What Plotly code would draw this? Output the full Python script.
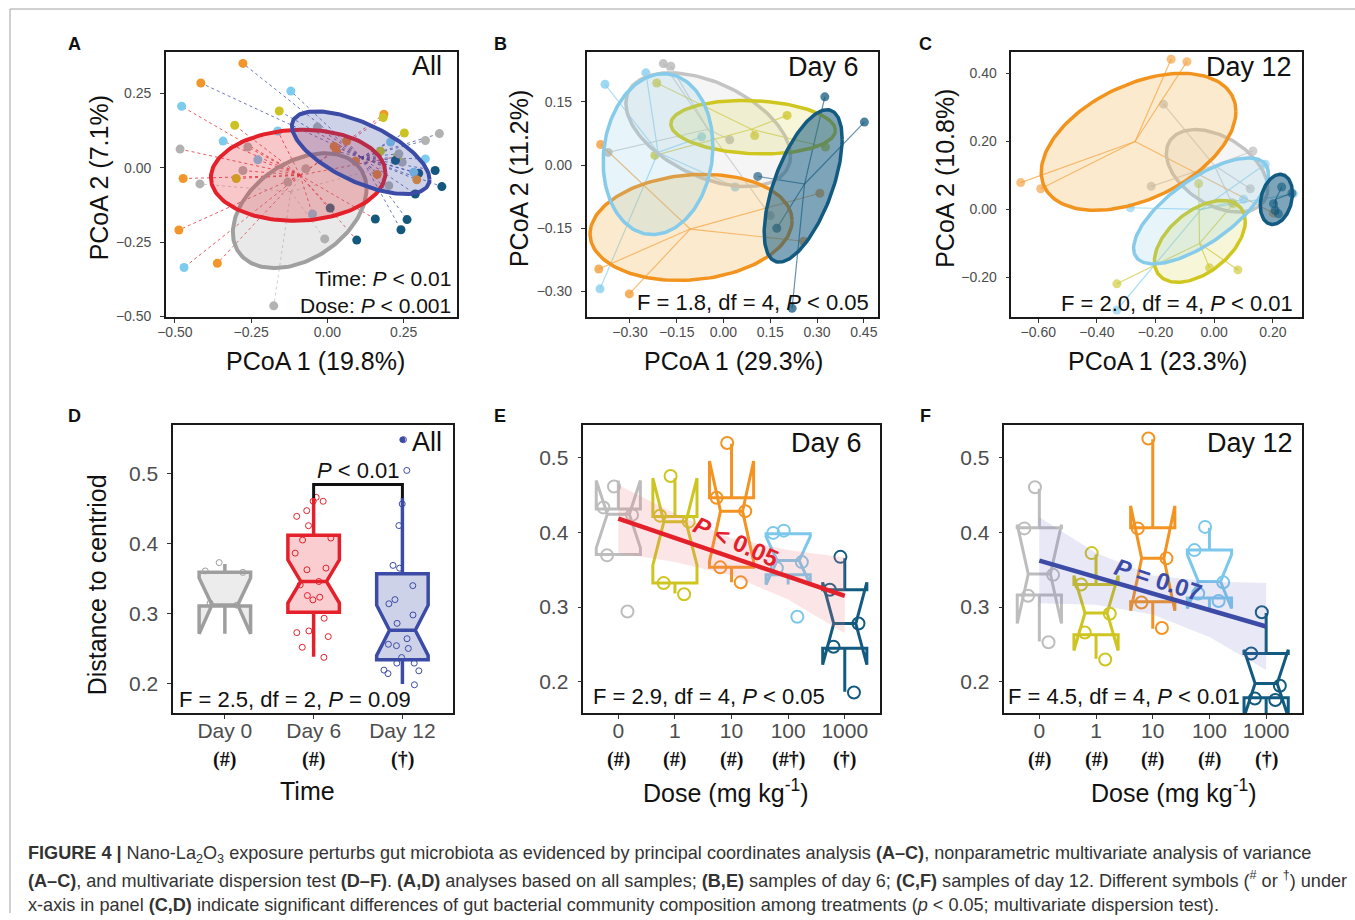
import numpy as np
import plotly.graph_objects as go

W, H = 1355, 920
FONT = "Liberation Sans, Arial, sans-serif"
SERIF = "Liberation Serif, Times New Roman, serif"
# measured placement of the page inside the photograph: x' = 8 + 0.994 x, y' = 0.99 y
SX, SY, DX = 0.994, 0.99, 8.0

def px(x):
    return ((x - DX) / SX) / W

def py(y):
    return 1 - (y / SY) / H

# ---------------- colours ----------------
DOSE_COL = {0: '#B2B2B2', 1: '#CBC321', 10: '#F3962A', 100: '#7DCBEE', 1000: '#13587D'}
RED = '#E4212B'
NAVY = '#3B4BA6'
GREYT = '#A0A0A0'

# ---------------- Panel A data (PCoA, all samples) ----------------
a_day0_x = [-0.418, -0.176, -0.009, -0.071, 0.245]
a_day0_y = [-0.054, -0.464, -0.239, -0.003, 0.019]
a_day0_dose = [0, 0, 0, 0, 0]
a_day6_x = [-0.478, -0.304, -0.342, -0.483, -0.473, -0.487, -0.361, -0.470, -0.299, 0.185, 0.157,
            0.096, 0.009, -0.228, -0.277, -0.130, -0.049, 0.230, -0.261, 0.183, -0.163]
a_day6_y = [0.207, 0.143, 0.090, 0.063, -0.036, -0.209, -0.321, -0.335, -0.036, 0.180, -0.172,
            -0.243, -0.135, 0.027, -0.009, -0.048, -0.155, 0.038, 0.070, 0.169, 0.124]
a_day6_dose = [100, 1, 100, 0, 10, 10, 10, 100, 1, 10, 1000, 1000, 1000, 100, 0, 0, 100, 1, 0, 1, 100]
a_day12_x = [-0.277, -0.415, -0.120, -0.158, 0.367, 0.321, 0.223, 0.299, 0.353, 0.375, 0.288, 0.261,
             0.241, 0.321, 0.283, 0.207, 0.252, 0.174, 0.022, 0.030, 0.063, 0.092, 0.163, 0.293,
             -0.033, 0.234, 0.201]
a_day12_y = [0.351, 0.285, 0.258, 0.191, 0.115, 0.092, 0.025, -0.018, -0.009, -0.063, -0.088, -0.174,
             -0.208, 0.030, -0.015, 0.087, 0.117, 0.056, 0.072, 0.056, 0.090, 0.022, -0.022, -0.040,
             0.137, 0.047, -0.060]
a_day12_dose = [10, 10, 100, 1, 0, 0, 1000, 1000, 1000, 1000, 1000, 1000, 1000, 100, 100, 100, 1, 1,
                10, 10, 10, 10, 10, 10, 0, 0, 0]
a_cent_x = [-0.12, -0.09, 0.11]
a_cent_y = [-0.08, -0.025, 0.035]
a_ell_cx = [-0.091, -0.096, 0.109]
a_ell_cy = [-0.144, -0.025, 0.051]
a_ell_rx = [0.219, 0.286, 0.2255]
a_ell_ry = [0.193, 0.153, 0.139]
a_ell_ph = [0.39, 0.05, -0.70]

# ---------------- Panel B data (PCoA day 6) ----------------
doses = [0, 1, 10, 100, 1000]
b_pts_x = [[-0.193, -0.169, -0.37, 0.15, 0.02],
           [-0.214, 0.204, -0.22, 0.327, 0.10],
           [-0.394, -0.40, -0.302, 0.257, 0.309],
           [-0.380, -0.249, -0.396, 0.0375, -0.07],
           [0.325, 0.452, 0.110, 0.171, 0.22]]
b_pts_y = [[0.241, 0.235, 0.03, -0.12, 0.06],
           [0.195, 0.118, 0.023, 0.043, 0.07],
           [0.049, -0.247, -0.306, -0.181, -0.067],
           [0.192, 0.219, -0.294, -0.052, 0.067],
           [0.162, 0.102, -0.027, -0.15, -0.34]]
b_cent_x = [-0.05, 0.09, -0.107, -0.21, 0.26]
b_cent_y = [0.085, 0.085, -0.152, 0.03, -0.045]
b_ell_cx = [-0.049, 0.095, -0.104, -0.21, 0.2555]
b_ell_cy = [0.084, 0.090, -0.148, 0.026, -0.0496]
b_ell_rx = [0.264, 0.264, 0.324, 0.176, 0.125]
b_ell_ry = [0.135, 0.0635, 0.126, 0.191, 0.181]
b_ell_ph = [-0.48, -0.12, 0.124, 0.10, 0.66]

# ---------------- Panel C data (PCoA day 12) ----------------
c_pts_x = [[-0.173, -0.215, 0.132, 0.123, 0.06],
           [-0.332, -0.016, 0.081, 0.066, -0.053],
           [-0.147, -0.093, -0.660, -0.592, 0.202],
           [-0.286, -0.332, 0.174, 0.27, 0.10],
           [0.208, 0.202, 0.265, 0.23, 0.219]]
c_pts_y = [[0.310, 0.068, 0.172, 0.061, 0.02],
           [-0.219, -0.172, -0.178, 0.017, 0.076],
           [0.442, 0.435, 0.079, 0.061, -0.011],
           [0.005, -0.296, 0.133, 0.046, 0.03],
           [-0.003, 0.017, 0.048, 0.066, -0.013]]
c_cent_x = [0.0, -0.05, -0.27, -0.045, 0.21]
c_cent_y = [0.13, -0.10, 0.20, 0.0, 0.03]
c_ell_cx = [0.0097, -0.049, -0.258, -0.045, 0.212]
c_ell_cy = [0.1136, -0.094, 0.199, -0.0044, 0.0295]
c_ell_rx = [0.173, 0.155, 0.332, 0.230, 0.055]
c_ell_ry = [0.1215, 0.1205, 0.2016, 0.156, 0.0738]
c_ell_ph = [-0.44, 0.51, 0.46, 0.78, 0.24]

# ---------------- Panel D data (dispersion, all) ----------------
d_groups = ['Day 0', 'Day 6', 'Day 12']
d_symbols = ['(#)', '(#)', '(†)']
d_q1 = [0.311, 0.302, 0.234]
d_med = [0.311, 0.346, 0.276]
d_q3 = [0.359, 0.412, 0.357]
d_lf = [0.311, 0.238, 0.199]
d_uf = [0.371, 0.466, 0.466]
d_ns = [0.040, 0.031, 0.036]
d_pts = [[0.373, 0.361, 0.315, 0.359, 0.312],
         [0.4665, 0.4608, 0.4608, 0.4474, 0.4392, 0.4258, 0.4081, 0.4053, 0.3866, 0.3651, 0.3627,
          0.3411, 0.3459, 0.3258, 0.3234, 0.3196, 0.2933, 0.2751, 0.2727, 0.2670, 0.2517, 0.2373],
         [0.549, 0.505, 0.457, 0.426, 0.369, 0.365, 0.340, 0.320, 0.314, 0.298, 0.286, 0.264,
          0.254, 0.256, 0.250, 0.237, 0.229, 0.229, 0.219, 0.214, 0.218, 0.198]]
d_outlier = [None, None, 0.549]
d_bracket_y = [0.4656, 0.4847, 0.4847, 0.4656]

# ---------------- Panel E data (dispersion, day 6) ----------------
dose_labels = ['0', '1', '10', '100', '1000']
e_symbols = ['(#)', '(#)', '(#)', '(#†)', '(†)']
e_q1 = [0.370, 0.332, 0.353, 0.343, 0.245]
e_med = [0.424, 0.414, 0.428, 0.362, 0.278]
e_q3 = [0.431, 0.421, 0.446, 0.398, 0.323]
e_lf = [0.370, 0.318, 0.333, 0.343, 0.187]
e_uf = [0.461, 0.472, 0.518, 0.398, 0.365]
e_ns = [0.045, 0.058, 0.067, 0.032, 0.055]
e_pts = [[0.461, 0.433, 0.423, 0.369, 0.294],
         [0.475, 0.422, 0.414, 0.332, 0.317],
         [0.519, 0.446, 0.428, 0.353, 0.333],
         [0.399, 0.402, 0.352, 0.287, 0.360],
         [0.367, 0.323, 0.278, 0.247, 0.186]]
e_fit = [0.418, 0.392, 0.366, 0.341, 0.315]
e_upper = [0.463, 0.425, 0.392, 0.376, 0.366]
e_lower = [0.372, 0.360, 0.342, 0.310, 0.265]

# ---------------- Panel F data (dispersion, day 12) ----------------
f_symbols = ['(#)', '(#)', '(#)', '(#)', '(†)']
f_q1 = [0.316, 0.263, 0.307, 0.312, 0.179]
f_med = [0.344, 0.292, 0.365, 0.334, 0.198]
f_q3 = [0.406, 0.330, 0.406, 0.376, 0.238]
f_lf = [0.254, 0.231, 0.271, 0.312, 0.179]
f_uf = [0.458, 0.370, 0.524, 0.406, 0.292]
f_ns = [0.066, 0.050, 0.070, 0.036, 0.045]
f_pts = [[0.460, 0.405, 0.343, 0.315, 0.253],
         [0.372, 0.330, 0.291, 0.266, 0.230],
         [0.525, 0.405, 0.365, 0.306, 0.272],
         [0.407, 0.376, 0.333, 0.318, 0.308],
         [0.293, 0.238, 0.195, 0.178, 0.176]]
f_fit = [0.362, 0.340, 0.318, 0.296, 0.274]
f_upper = [0.420, 0.372, 0.342, 0.334, 0.332]
f_lower = [0.305, 0.303, 0.290, 0.260, 0.216]


def rgba(hexc, a):
    h = hexc.lstrip('#')
    r, g, b = int(h[0:2], 16), int(h[2:4], 16), int(h[4:6], 16)
    return f'rgba({r},{g},{b},{a})'


def ellipse(cx, cy, rx, ry, ph, n=160):
    t = np.linspace(0, 2 * np.pi, n)
    return cx + rx * np.cos(t), cy + ry * np.sin(t + ph)


def spider(cx, cy, xs, ys):
    lx, ly = [], []
    for x, y in zip(xs, ys):
        lx += [cx, x, None]
        ly += [cy, y, None]
    return lx, ly


fig = go.Figure()

# ================= Panel A =================
a_sets = [(a_day0_x, a_day0_y, a_day0_dose, '#BDBDBD'),
          (a_day6_x, a_day6_y, a_day6_dose, RED),
          (a_day12_x, a_day12_y, a_day12_dose, NAVY)]
for gi, (xs, ys, ds, lc) in enumerate(a_sets):
    lx, ly = spider(a_cent_x[gi], a_cent_y[gi], xs, ys)
    fig.add_trace(go.Scatter(x=lx, y=ly, mode='lines', xaxis='x', yaxis='y',
                             line=dict(color=rgba(lc, 0.75), width=1, dash='dot'),
                             hoverinfo='skip', showlegend=False))
for gi, (xs, ys, ds, lc) in enumerate(a_sets):
    fig.add_trace(go.Scatter(x=xs, y=ys, mode='markers', xaxis='x', yaxis='y',
                             marker=dict(size=9, color=[DOSE_COL[d] for d in ds], line=dict(width=0)),
                             hoverinfo='skip', showlegend=False))
a_ell_col = [GREYT, RED, NAVY]
a_ell_fill = [rgba('#A8A8A8', 0.25), rgba(RED, 0.25), rgba(NAVY, 0.25)]
for i in range(3):
    ex, ey = ellipse(a_ell_cx[i], a_ell_cy[i], a_ell_rx[i], a_ell_ry[i], a_ell_ph[i])
    fig.add_trace(go.Scatter(x=ex, y=ey, mode='lines', fill='toself', fillcolor=a_ell_fill[i],
                             line=dict(color=a_ell_col[i], width=4), xaxis='x', yaxis='y',
                             hoverinfo='skip', showlegend=False))

# ================= Panels B and C =================
ell_line = {0: '#C4C4C4', 1: '#CFC71F', 10: '#F2931E', 100: '#86CBEA', 1000: '#135A80'}
ell_fill = {0: rgba('#C8C8C8', 0.18), 1: rgba('#D7D23C', 0.2), 10: rgba('#F5B450', 0.28),
            100: rgba('#86CBEA', 0.2), 1000: rgba('#135A80', 0.55)}
for (ax, ay, pxs, pys, cxs, cys, ecx, ecy, erx, ery, eph, op) in [
        ('x2', 'y2', b_pts_x, b_pts_y, b_cent_x, b_cent_y, b_ell_cx, b_ell_cy, b_ell_rx, b_ell_ry, b_ell_ph, 0.75),
        ('x3', 'y3', c_pts_x, c_pts_y, c_cent_x, c_cent_y, c_ell_cx, c_ell_cy, c_ell_rx, c_ell_ry, c_ell_ph, 0.6)]:
    for i, d in enumerate(doses):
        lx, ly = spider(cxs[i], cys[i], pxs[i], pys[i])
        fig.add_trace(go.Scatter(x=lx, y=ly, mode='lines', xaxis=ax, yaxis=ay,
                                 line=dict(color=rgba(DOSE_COL[d] if d else '#BDBDBD', 0.65), width=1.2),
                                 hoverinfo='skip', showlegend=False))
        fig.add_trace(go.Scatter(x=pxs[i], y=pys[i], mode='markers', xaxis=ax, yaxis=ay,
                                 marker=dict(size=9, color=DOSE_COL[d], opacity=op, line=dict(width=0)),
                                 hoverinfo='skip', showlegend=False))
    for i, d in enumerate(doses):
        ex, ey = ellipse(ecx[i], ecy[i], erx[i], ery[i], eph[i])
        fig.add_trace(go.Scatter(x=ex, y=ey, mode='lines', fill='toself', fillcolor=ell_fill[d],
                                 line=dict(color=ell_line[d], width=3.5), xaxis=ax, yaxis=ay,
                                 hoverinfo='skip', showlegend=False))

# ================= Panel D =================
d_col = ['#9E9E9E', RED, NAVY]
d_fill = [rgba('#C8C8C8', 0.35), rgba('#F05A64', 0.3), rgba(NAVY, 0.25)]
for i in range(3):
    fig.add_trace(go.Box(x=[i], q1=[d_q1[i]], median=[d_med[i]], q3=[d_q3[i]],
                         lowerfence=[d_lf[i]], upperfence=[d_uf[i]], notchspan=[d_ns[i]],
                         notched=True, notchwidth=0.25, width=0.58, whiskerwidth=0,
                         fillcolor=d_fill[i], line=dict(color=d_col[i], width=3.5),
                         boxpoints=False, xaxis='x4', yaxis='y4', hoverinfo='skip', showlegend=False))
    fig.add_trace(go.Box(x=[i] * len(d_pts[i]), y=d_pts[i], boxpoints='all', jitter=0.9, pointpos=0,
                         width=0.58, fillcolor='rgba(0,0,0,0)', line=dict(color='rgba(0,0,0,0)', width=0),
                         whiskerwidth=0,
                         marker=dict(symbol='circle-open', size=6, color=d_col[i], line=dict(width=1)),
                         xaxis='x4', yaxis='y4', hoverinfo='skip', showlegend=False))
    if d_outlier[i] is not None:
        fig.add_trace(go.Scatter(x=[i], y=[d_outlier[i]], mode='markers', xaxis='x4', yaxis='y4',
                                 marker=dict(size=6, color=d_col[i]), hoverinfo='skip', showlegend=False))
fig.add_trace(go.Scatter(x=[1, 1, 2, 2], y=d_bracket_y, mode='lines', xaxis='x4', yaxis='y4',
                         line=dict(color='#111111', width=3), hoverinfo='skip', showlegend=False))

# ================= Panels E and F =================
box_col = ['#BDBDBD', '#CFC521', '#F39422', '#7CC8EC', '#135A80']
pos = list(range(5))
for (ax, ay, q1, med, q3, lf, uf, ns, pts, fit, up, lo, lcol, rfill) in [
        ('x5', 'y5', e_q1, e_med, e_q3, e_lf, e_uf, e_ns, e_pts, e_fit, e_upper, e_lower, RED, rgba('#F07C80', 0.2)),
        ('x6', 'y6', f_q1, f_med, f_q3, f_lf, f_uf, f_ns, f_pts, f_fit, f_upper, f_lower, NAVY, rgba('#6E6EC8', 0.16))]:
    for i in pos:
        fig.add_trace(go.Box(x=[i], q1=[q1[i]], median=[med[i]], q3=[q3[i]],
                             lowerfence=[lf[i]], upperfence=[uf[i]], notchspan=[ns[i]],
                             notched=True, notchwidth=0.25, width=0.78, whiskerwidth=0,
                             fillcolor='rgba(0,0,0,0)', line=dict(color=box_col[i], width=3),
                             boxpoints=False, xaxis=ax, yaxis=ay, hoverinfo='skip', showlegend=False))
        fig.add_trace(go.Box(x=[i] * len(pts[i]), y=pts[i], boxpoints='all', jitter=0.8, pointpos=0,
                             width=0.78, fillcolor='rgba(0,0,0,0)', line=dict(color='rgba(0,0,0,0)', width=0),
                             whiskerwidth=0,
                             marker=dict(symbol='circle-open', size=12, color=box_col[i], line=dict(width=2)),
                             xaxis=ax, yaxis=ay, hoverinfo='skip', showlegend=False))
    fig.add_trace(go.Scatter(x=pos + pos[::-1], y=up + lo[::-1], mode='lines', fill='toself',
                             fillcolor=rfill, line=dict(width=0), xaxis=ax, yaxis=ay,
                             hoverinfo='skip', showlegend=False))
    fig.add_trace(go.Scatter(x=pos, y=fit, mode='lines', line=dict(color=lcol, width=4.5),
                             xaxis=ax, yaxis=ay, hoverinfo='skip', showlegend=False))


# ================= Axes =================
def make_axis(domain, rng, tickvals, ticktext, size, anchor, standoff=0):
    return dict(domain=domain, range=rng, tickmode='array', tickvals=tickvals, ticktext=ticktext,
                showline=True, mirror=True, linecolor='#1A1A1A', linewidth=1.5,
                ticks='outside', ticklen=4, tickwidth=1.2, tickcolor='#333333',
                tickfont=dict(family=FONT, size=size, color='#4D4D4D'), ticklabelstandoff=standoff,
                showgrid=False, zeroline=False, anchor=anchor, fixedrange=True)

top_y = [py(316.7), py(51.7)]
bot_y = [py(711.7), py(424)]
lay = {}
lay['xaxis'] = make_axis([px(165), px(456.7)], [-0.5295, 0.426], [-0.5, -0.25, 0, 0.25],
                         ['−0.50', '−0.25', '0.00', '0.25'], 14, 'y', -3)
lay['yaxis'] = make_axis(top_y, [-0.503, 0.39], [-0.5, -0.25, 0, 0.25],
                         ['−0.50', '−0.25', '0.00', '0.25'], 14, 'x', 6)
lay['xaxis2'] = make_axis([px(586), px(877.7)], [-0.439, 0.496], [-0.3, -0.15, 0, 0.15, 0.3, 0.45],
                          ['−0.30', '−0.15', '0.00', '0.15', '0.30', '0.45'], 14, 'y2', -3)
lay['yaxis2'] = make_axis(top_y, [-0.362, 0.269], [-0.3, -0.15, 0, 0.15],
                          ['−0.30', '−0.15', '0.00', '0.15'], 14, 'x2', 6)
lay['xaxis3'] = make_axis([px(1011), px(1301.7)], [-0.692, 0.299], [-0.6, -0.4, -0.2, 0, 0.2],
                          ['−0.60', '−0.40', '−0.20', '0.00', '0.20'], 14, 'y3', -3)
lay['yaxis3'] = make_axis(top_y, [-0.318, 0.464], [-0.2, 0, 0.2, 0.4],
                          ['−0.20', '0.00', '0.20', '0.40'], 14, 'x3', 6)
lay['xaxis4'] = make_axis([px(172.3), px(452.3)], [-0.582, 2.57], [0, 1, 2], d_groups, 21, 'y4', -6)
lay['yaxis4'] = make_axis(bot_y, [0.157, 0.570], [0.2, 0.3, 0.4, 0.5], ['0.2', '0.3', '0.4', '0.5'], 21, 'x4', 5)
lay['xaxis5'] = make_axis([px(582.7), px(880)], [-0.618, 4.63], pos, dose_labels, 21, 'y5', -6)
lay['yaxis5'] = make_axis(bot_y, [0.158, 0.543], [0.2, 0.3, 0.4, 0.5], ['0.2', '0.3', '0.4', '0.5'], 21, 'x5', 5)
lay['xaxis6'] = make_axis([px(1004), px(1301.7)], [-0.617, 4.63], pos, dose_labels, 21, 'y6', -6)
lay['yaxis6'] = make_axis(bot_y, [0.158, 0.543], [0.2, 0.3, 0.4, 0.5], ['0.2', '0.3', '0.4', '0.5'], 21, 'x6', 5)

# ================= Annotations =================
ann = []

def txt(x, y, text, size, xanchor='center', yanchor='middle', color='#111111', family=FONT, angle=0,
        xref='paper', yref='paper'):
    ann.append(dict(x=x, y=y, xref=xref, yref=yref, text=text, showarrow=False, xanchor=xanchor,
                    yanchor=yanchor, textangle=angle, font=dict(family=family, size=size, color=color)))

for L, x, y in [('A', 74, 44), ('B', 500, 44), ('C', 925, 44), ('D', 74, 415), ('E', 499, 415), ('F', 925, 415)]:
    txt(px(x), py(y), f'<b>{L}</b>', 18)

txt(px(443), py(66), 'All', 27, xanchor='right')
txt(px(861), py(67), 'Day 6', 27, xanchor='right')
txt(px(1294), py(67), 'Day 12', 27, xanchor='right')
txt(px(443), py(441), 'All', 27, xanchor='right')
txt(px(864), py(442), 'Day 6', 27, xanchor='right')
txt(px(1295), py(442), 'Day 12', 27, xanchor='right')

txt(px(452), py(278), 'Time: <i>P</i> &lt; 0.01', 21, xanchor='right')
txt(px(452), py(305), 'Dose: <i>P</i> &lt; 0.001', 21, xanchor='right')
txt(px(871), py(302), 'F = 1.8, df = 4, <i>P</i> &lt; 0.05', 22, xanchor='right')
txt(px(1295), py(303), 'F = 2.0, df = 4, <i>P</i> &lt; 0.01', 22, xanchor='right')
txt(px(176), py(698), 'F = 2.5, df = 2, <i>P</i> = 0.09', 22, xanchor='left')
txt(px(590), py(695), 'F = 2.9, df = 4, <i>P</i> &lt; 0.05', 22, xanchor='left')
txt(px(1006), py(695), 'F = 4.5, df = 4, <i>P</i> &lt; 0.01', 22, xanchor='left')

txt(1.5, 0.505, '<i>P</i> &lt; 0.01', 22, xref='x4', yref='y4')
txt(2.08, 0.3876, '<b><i>P</i> &lt; 0.05</b>', 24, color=RED, angle=24, xref='x5', yref='y5')
txt(2.09, 0.3363, '<b><i>P</i> = 0.07</b>', 24, color=NAVY, angle=18, xref='x6', yref='y6')

txt(px(315), py(360), 'PCoA 1 (19.8%)', 25)
txt(px(733), py(360), 'PCoA 1 (29.3%)', 25)
txt(px(1157), py(360), 'PCoA 1 (23.3%)', 25)
txt(px(98), py(177), 'PCoA 2 (7.1%)', 25, angle=-90)
txt(px(519), py(178), 'PCoA 2 (11.2%)', 25, angle=-90)
txt(px(945), py(178), 'PCoA 2 (10.8%)', 25, angle=-90)
txt(px(96), py(583), 'Distance to centriod', 25, angle=-90)
txt(px(307), py(789), 'Time', 25)
txt(px(725), py(789), 'Dose (mg kg<sup>-1</sup>)', 25)
txt(px(1174), py(789), 'Dose (mg kg<sup>-1</sup>)', 25)

for i, s in enumerate(d_symbols):
    txt(i, py(758), f'<b>{s}</b>', 20, family=SERIF, xref='x4')
for i, s in enumerate(e_symbols):
    txt(i, py(758), f'<b>{s}</b>', 20, family=SERIF, xref='x5')
for i, s in enumerate(f_symbols):
    txt(i, py(758), f'<b>{s}</b>', 20, family=SERIF, xref='x6')

cap = [
    '<b>FIGURE 4 |</b> Nano-La<sub>2</sub>O<sub>3</sub> exposure perturbs gut microbiota as evidenced by principal coordinates analysis <b>(A–C)</b>, nonparametric multivariate analysis of variance',
    '<b>(A–C)</b>, and multivariate dispersion test <b>(D–F)</b>. <b>(A,D)</b> analyses based on all samples; <b>(B,E)</b> samples of day 6; <b>(C,F)</b> samples of day 12. Different symbols (<sup>#</sup> or <sup>†</sup>) under',
    'x-axis in panel <b>(C,D)</b> indicate significant differences of gut bacterial community composition among treatments (<i>p</i> &lt; 0.05; multivariate dispersion test).',
]
for k, line in enumerate(cap):
    txt(px(25), py(852 + 25.5 * k), line, 18.1, xanchor='left', color='#333333')

shapes = [
    dict(type='line', xref='paper', yref='paper', x0=px(9), x1=px(9), y0=0, y1=py(9),
         line=dict(color='#A0A0A0', width=1)),
    dict(type='line', xref='paper', yref='paper', x0=px(9), x1=1, y0=py(9), y1=py(9),
         line=dict(color='#A0A0A0', width=1)),
]

fig.update_layout(width=W, height=H, autosize=False, margin=dict(l=0, r=0, t=0, b=0),
                  paper_bgcolor='white', plot_bgcolor='white', showlegend=False, annotations=ann,
                  shapes=shapes, boxmode='overlay', font=dict(family=FONT), **lay)

fig.write_html("out.html", config={'displayModeBar': False},
               post_script="document.body.style.margin='0';")
